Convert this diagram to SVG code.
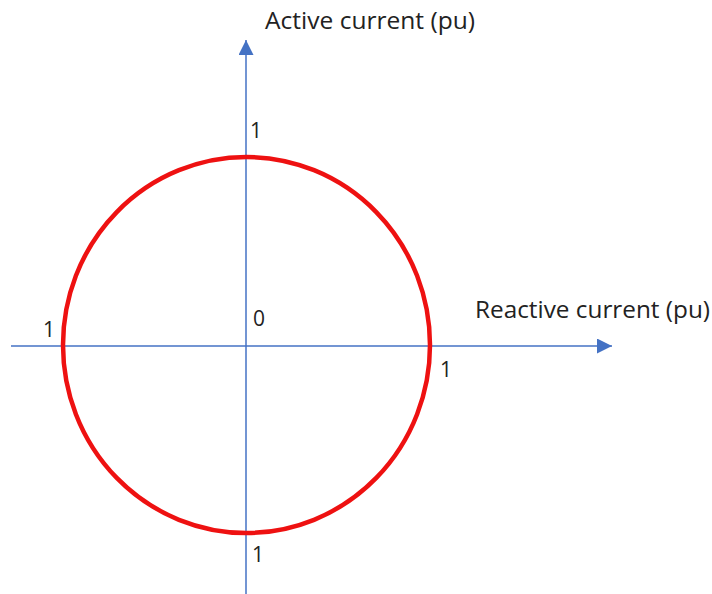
<svg xmlns="http://www.w3.org/2000/svg" width="712" height="594" viewBox="0 0 712 594">
<style>
.ax{stroke:#4472C4;stroke-width:1.5;fill:none}
.t{font-family:"Open Sans","Noto Sans",sans-serif;font-size:24px;fill:#222}
.n{font-family:"Open Sans","Noto Sans",sans-serif;font-size:21px;fill:#222}
</style>
<defs>
<marker id="arr" viewBox="0 0 10 10" refX="10" refY="5" markerWidth="15" markerHeight="15" markerUnits="userSpaceOnUse" orient="auto">
<path d="M0,0 L10,5 L0,10 z" fill="#4472C4"/>
</marker>
</defs>
<rect width="712" height="594" fill="#fff"/>
<g id="connectors">
<path class="ax" d="M11,346 H612" marker-end="url(#arr)"/>
<path class="ax" d="M246,594 V40" marker-end="url(#arr)"/>
</g>
<g id="circle">
<ellipse cx="246.5" cy="345" rx="183.5" ry="188" fill="none" stroke="#EE1111" stroke-width="4.5"/>
</g>
<g id="labels">
<text class="t" x="265" y="29" textLength="210" lengthAdjust="spacingAndGlyphs">Active current (pu)</text>
<text class="t" x="475" y="318" textLength="235" lengthAdjust="spacingAndGlyphs">Reactive current (pu)</text>
<text class="n" x="250" y="138">1</text>
<text class="n" x="253" y="326">0</text>
<text class="n" x="43" y="337">1</text>
<text class="n" x="440" y="377">1</text>
<text class="n" x="252" y="562">1</text>
</g>
</svg>
